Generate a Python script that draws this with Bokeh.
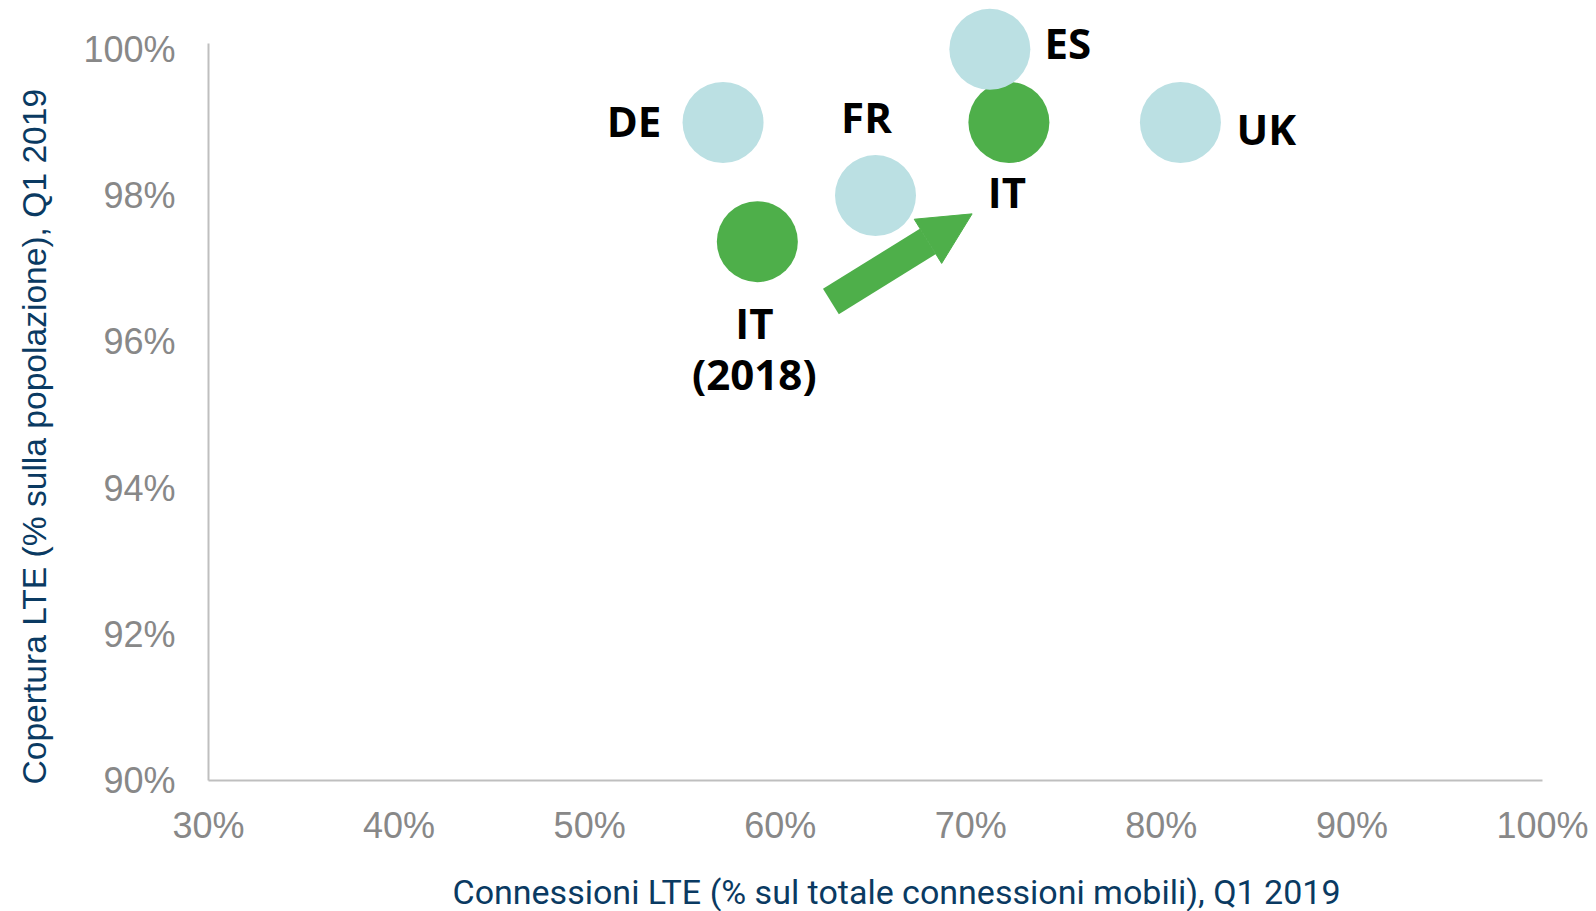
from bokeh.plotting import figure
from bokeh.models import ColumnDataSource, FixedTicker, PrintfTickFormatter, Title, Arrow, NormalHead, Range1d
from bokeh.core.properties import value
from bokeh.embed import file_html
from bokeh.resources import INLINE

# ---- data ----
countries = ["DE", "FR", "ES", "UK"]
conn_lte = [57.0, 65.0, 71.0, 81.0]        # % of mobile connections
coverage = [99.0, 98.0, 100.0, 99.0]       # % population coverage

it_labels = ["IT\n(2018)", "IT"]
it_conn = [58.8, 72.0]
it_cov = [97.37, 99.0]

arrow_from = (62.66, 96.55)
arrow_to = (70.07, 97.75)

x_ticks = [30, 40, 50, 60, 70, 80, 90, 100]
y_ticks = [90, 92, 94, 96, 98, 100]

x_title = "Connessioni LTE (% sul totale connessioni mobili), Q1 2019"
y_title = "Copertura LTE (% sulla popolazione), Q1 2019"

# ---- styles ----
BLUE = "#BBE0E3"
GREEN = "#4EAF4A"
NAVY = "#0A3A62"
GREY = "#888888"

p = figure(width=1596, height=911, output_backend="svg", toolbar_location=None,
           x_range=Range1d(30, 100), y_range=Range1d(90, 100.60),
           min_border_left=208, min_border_right=54, min_border_top=5, min_border_bottom=131)
p.outline_line_color = None
p.xgrid.visible = False
p.ygrid.visible = False
p.background_fill_color = "white"

for ax in (p.xaxis, p.yaxis):
    ax.axis_line_color = "#BFBFBF"
    ax.axis_line_width = 2
    ax.major_tick_line_color = None
    ax.minor_tick_line_color = None
    ax.major_label_text_color = GREY
    ax.major_label_text_font = "Liberation Sans"
    ax.major_label_text_font_size = "36px"
    ax.formatter = PrintfTickFormatter(format="%d%%")
    # blank spacer label: only used to pad the axis panel
    ax.axis_label = " "
    ax.axis_label_text_font_size = "2px"

p.xaxis.ticker = FixedTicker(ticks=x_ticks)
p.yaxis.ticker = FixedTicker(ticks=y_ticks)
p.yaxis.bounds = (90, 100.08)
p.xaxis.major_label_standoff = 18
p.yaxis.major_label_standoff = 27
p.xaxis.axis_label_standoff = 16
p.yaxis.axis_label_standoff = 10

# IT points (green) first, so ES overlaps them
it_src = ColumnDataSource(dict(x=it_conn, y=it_cov, label=it_labels,
                               dx=[-3, -2], dy=[106, 69]))
p.scatter("x", "y", source=it_src, size=81, color=GREEN, line_color=None)

src = ColumnDataSource(dict(x=conn_lte, y=coverage, label=countries,
                            dx=[-89, -9, 78, 86], dy=[-2, -79, -7, 6]))
p.scatter("x", "y", source=src, size=81, color=BLUE, line_color=None)

txt_kw = dict(text_font=value("Open Sans"), text_font_style="bold", text_font_size="42px",
              text_color="black", text_align="center", text_baseline="middle")
p.text("x", "y", text="label", x_offset="dx", y_offset="dy", source=src, **txt_kw)
p.text("x", "y", text="label", x_offset="dx", y_offset="dy", source=it_src,
       text_line_height=0.9, **txt_kw)

p.add_layout(Arrow(x_start=arrow_from[0], y_start=arrow_from[1], x_end=arrow_to[0], y_end=arrow_to[1],
                   line_color=GREEN, line_width=30,
                   end=NormalHead(size=52, fill_color=GREEN, line_color=GREEN, line_width=1)))

p.add_layout(Title(text=x_title, align="left", offset=244, text_font="Roboto",
                   text_font_size="34px", text_font_style="normal", text_color=NAVY,
                   standoff=0), "below")
p.add_layout(Title(text=y_title, align="left", offset=-4, text_font="Liberation Sans",
                   text_font_size="33.6px", text_font_style="normal", text_color=NAVY,
                   standoff=26), "left")

open("out.html", "w").write(file_html(p, INLINE))
